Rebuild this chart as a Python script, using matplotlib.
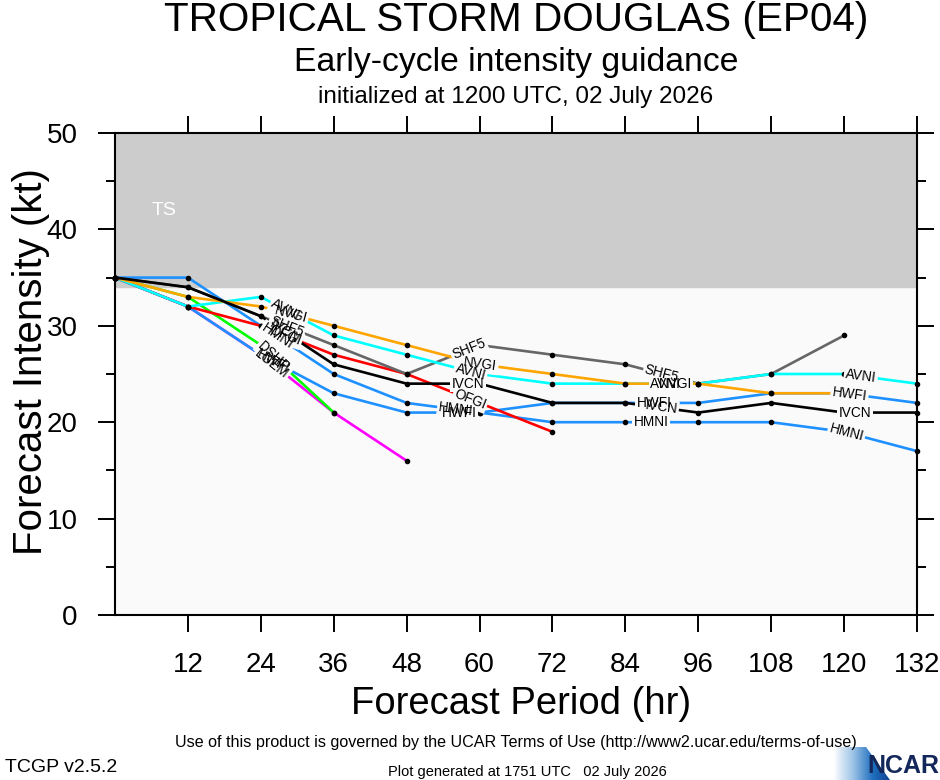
import matplotlib
matplotlib.use('Agg')
import matplotlib.pyplot as plt
import numpy as np

plt.rcParams['font.family'] = ['Liberation Sans', 'DejaVu Sans']

# forecast hours
hours = [0, 12, 24, 36, 48, 60, 72, 84, 96, 108, 120, 132]

# intensity guidance (kt), in drawing order (bottom first)
models = ['LGEM', 'DSHP', 'HMNI', 'HWFI', 'OFGI', 'SHF5', 'AVNI', 'NVGI', 'IVCN']
colors = ['#ff00ff', '#00ff00', '#1e90ff', '#1e90ff', '#ff0000', '#666666',
          '#00ffff', '#ffa500', '#000000']
lgem = [35, 32, 27, 21, 16]
dshp = [35, 33, 28, 21]
hmni = [35, 35, 30, 25, 22, 21, 20, 20, 20, 20, 19, 17]
hwfi = [35, 32, 27, 23, 21, 21, 22, 22, 22, 23, 23, 22]
ofgi = [35, 32, 30, 27, 25, 22, 19]
shf5 = [35, 34, 31, 28, 25, 28, 27, 26, 24, 25, 29]
avni = [35, 32, 33, 29, 27, 25, 24, 24, 24, 25, 25, 24]
nvgi = [35, 33, 32, 30, 28, 26, 25, 24, 24, 23, 23]
ivcn = [35, 34, 31, 26, 24, 24, 22, 22, 21, 22, 21, 21]
values = [lgem, dshp, hmni, hwfi, ofgi, shf5, avni, nvgi, ivcn]

W, H = 940, 780
fig = plt.figure(figsize=(W / 100, H / 100), dpi=100)
ax = fig.add_axes([115 / W, 1 - 615 / H, (917 - 115) / W, (615 - 133) / H])
ax.set_xlim(0, 132)
ax.set_ylim(0, 50)
ax.set_facecolor('#fafafa')
ax.axhspan(34, 50, color='#cccccc', zorder=0)
ax.text(8, 42, 'TS', color='white', fontsize=14, ha='center', va='center')

for name, col, v in zip(models, colors, values):
    ax.plot(hours[:len(v)], v, color=col, lw=1.9, zorder=2, solid_capstyle='butt')
for v in values:
    ax.plot(hours[:len(v)], v, 'o', color='black', ms=3.0, zorder=3, clip_on=False)

# line labels placed at equal arc length along each line (screen pixels)
for name, v in zip(models, values):
    pts = ax.transData.transform(np.column_stack([hours[:len(v)], v]))
    seg = np.hypot(np.diff(pts[:, 0]), np.diff(pts[:, 1]))
    cum = np.concatenate([[0], np.cumsum(seg)])
    s = 180.0
    while s < cum[-1]:
        i = np.searchsorted(cum, s) - 1
        f = (s - cum[i]) / seg[i]
        p = pts[i] + f * (pts[i + 1] - pts[i])
        ang = np.degrees(np.arctan2(pts[i + 1, 1] - pts[i, 1], pts[i + 1, 0] - pts[i, 0]))
        xd, yd = ax.transData.inverted().transform(p)
        ax.text(xd, yd, name, color='none', fontsize=9.8, ha='center', va='center',
                rotation=ang, rotation_mode='anchor', zorder=4,
                bbox=dict(boxstyle='square,pad=0.12', fc='#fafafa', ec='none'))
        ax.text(xd, yd, name, color='black', fontsize=9.8, ha='center', va='center',
                rotation=ang, rotation_mode='anchor', zorder=5)
        s += 196.0

ax.set_xticks([12, 24, 36, 48, 60, 72, 84, 96, 108, 120, 132])
ax.set_yticks([0, 10, 20, 30, 40, 50])
ax.set_yticks([5, 15, 25, 35, 45], minor=True)
ax.tick_params(axis='both', which='major', direction='out', length=12, width=1.4,
               labelsize=20, top=True, right=True)
ax.tick_params(axis='y', which='minor', direction='out', length=6.5, width=1.4, right=True)
ax.tick_params(axis='x', pad=15)
ax.tick_params(axis='y', pad=15)
for sp in ax.spines.values():
    sp.set_linewidth(1.5)

ax.set_xlabel('Forecast Period (hr)', fontsize=27.5)
ax.xaxis.set_label_coords((521 - 115) / 802, -(686 - 615) / 482)
ax.set_ylabel('Forecast Intensity (kt)', fontsize=29)
ax.yaxis.set_label_coords((50 - 115) / 802, (615 - 362) / 482)

cx = (115 + 917) / 2 / W
fig.text(cx, 1 - 20 / H, 'TROPICAL STORM DOUGLAS (EP04)', fontsize=29.2, ha='center', va='center')
fig.text(cx, 1 - 63 / H, 'Early-cycle intensity guidance', fontsize=24.3, ha='center', va='center')
fig.text(cx, 1 - 97 / H, 'initialized at 1200 UTC, 02 July 2026', fontsize=17.5, ha='center', va='center')

fig.text(516 / W, 1 - 743 / H,
         'Use of this product is governed by the UCAR Terms of Use (http://www2.ucar.edu/terms-of-use)',
         fontsize=11.65, ha='center', va='center')
fig.text(5 / W, 1 - 768 / H, 'TCGP v2.5.2', fontsize=14, ha='left', va='center')
fig.text(527 / W, 1 - 772 / H, 'Plot generated at 1751 UTC   02 July 2026', fontsize=10.5,
         ha='center', va='center')

# NCAR logo: gradient wedge + text
lax = fig.add_axes([0, 0, 1, 1], zorder=-1)
lax.set_xlim(0, W)
lax.set_ylim(H, 0)
lax.axis('off')
grad = np.linspace(0, 1, 64)[None, :] * np.ones((16, 1))
im = lax.imshow(grad, extent=[833, 893, 780, 747], cmap=matplotlib.colors.LinearSegmentedColormap.from_list(
    'ncar', ['#ffffff', '#9cc3e6', '#1f6fbf', '#0d3d8c']), aspect='auto')
poly = plt.Polygon([(833, 780), (833, 747), (866, 747), (890, 780)], transform=lax.transData)
im.set_clip_path(poly)
fig.text(939 / W, 1 - 766 / H, 'NCAR', fontsize=18, fontweight='bold', color='#13275a',
         ha='right', va='center')

fig.savefig('out.png', dpi=100)
